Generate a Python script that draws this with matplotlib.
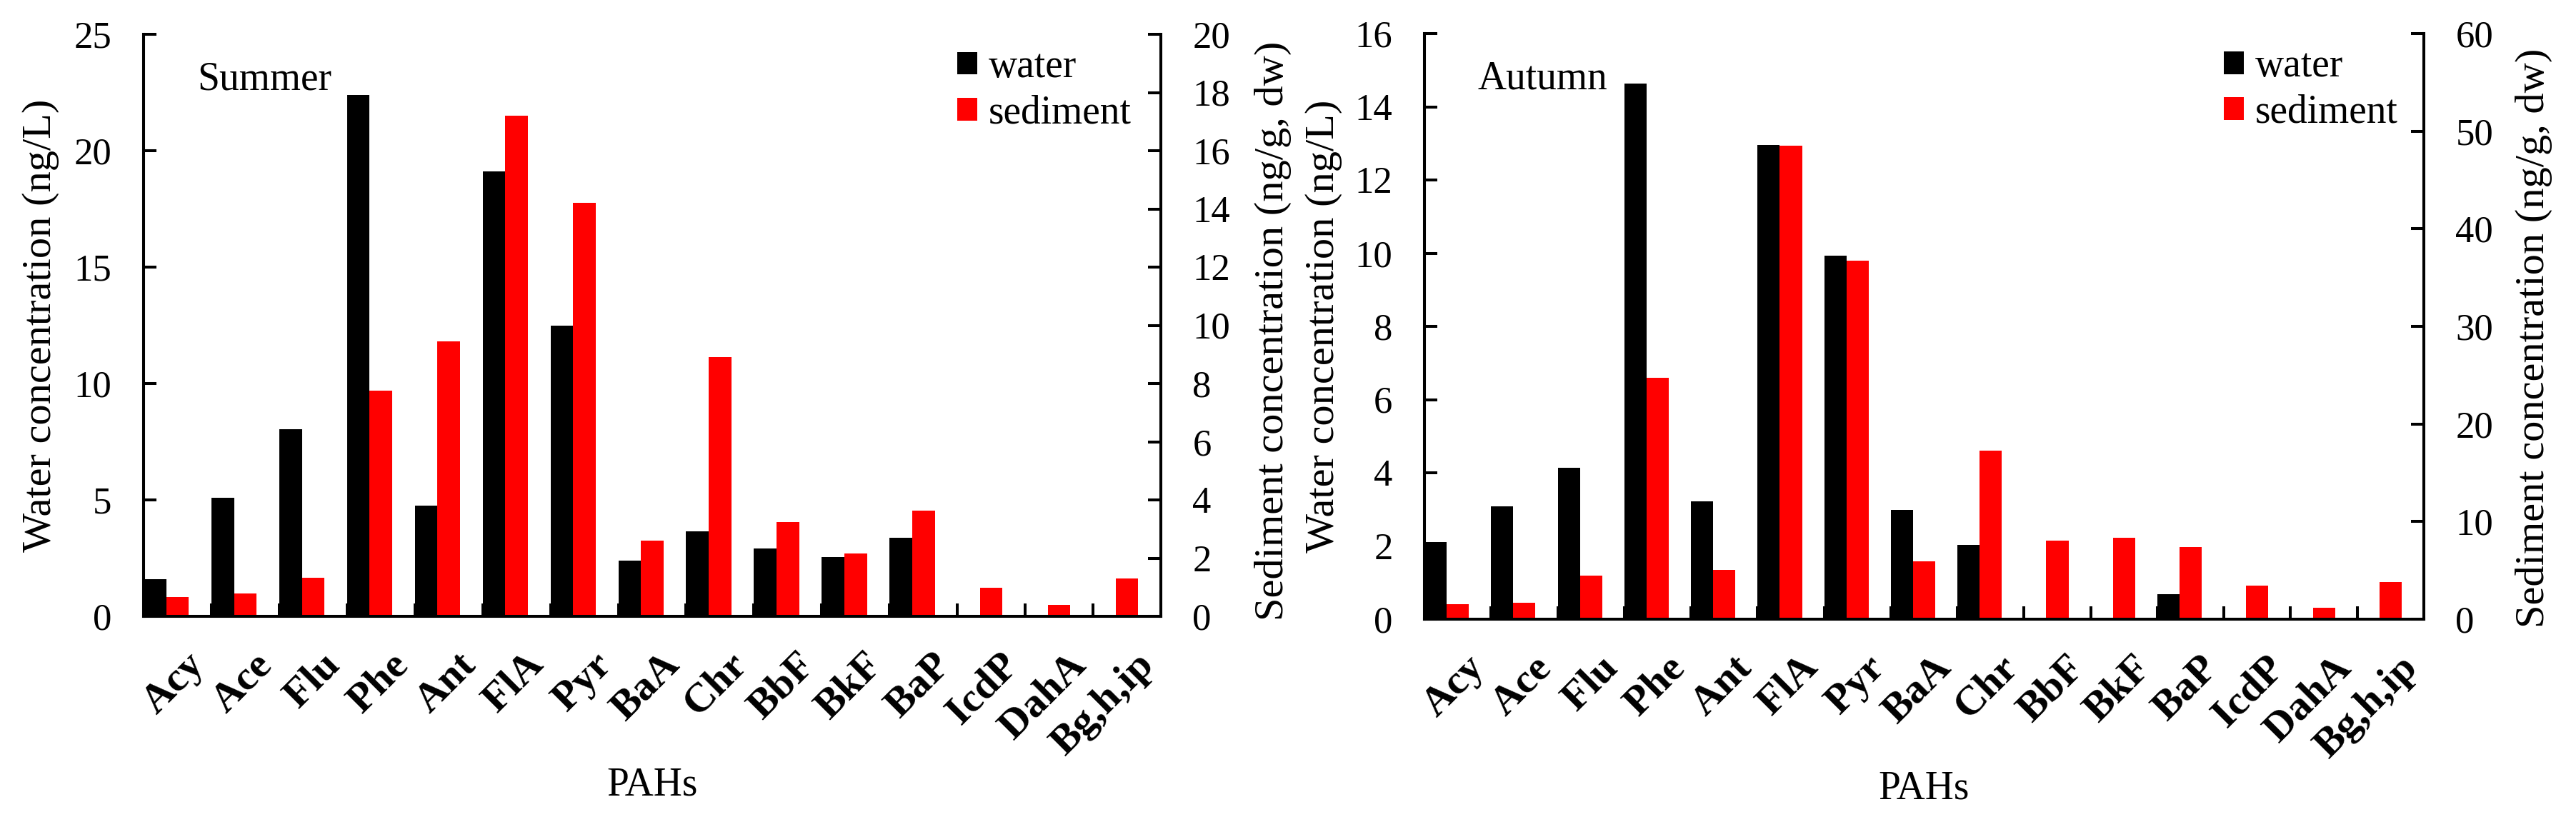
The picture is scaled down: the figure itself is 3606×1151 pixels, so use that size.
import numpy as np
import matplotlib
matplotlib.use('Agg')
import matplotlib.pyplot as plt
from matplotlib.patches import Patch
from matplotlib.ticker import MultipleLocator, FixedLocator, NullFormatter
from matplotlib.transforms import ScaledTranslation

plt.rcParams['font.family'] = 'serif'
plt.rcParams['font.serif'] = ['Liberation Serif', 'DejaVu Serif']
plt.rcParams['mathtext.fontset'] = 'stix'

# ------------------------------------------------------------------
# Data
# ------------------------------------------------------------------
pahs = ['Acy', 'Ace', 'Flu', 'Phe', 'Ant', 'FlA', 'Pyr', 'BaA', 'Chr',
        'BbF', 'BkF', 'BaP', 'IcdP', 'DahA', 'Bg,h,ip']

summer_water = [1.6, 5.1, 8.05, 22.4, 4.75, 19.1, 12.5, 2.4, 3.65,
                2.9, 2.56, 3.36, 0.0, 0.0, 0.0]
summer_sediment = [0.66, 0.79, 1.33, 7.76, 9.44, 17.2, 14.2, 2.59, 8.92,
                   3.25, 2.16, 3.62, 0.99, 0.40, 1.29]

autumn_water = [2.11, 3.09, 4.14, 14.63, 3.22, 12.95, 9.94, 2.99, 2.02,
                0.0, 0.0, 0.69, 0.0, 0.0, 0.0]
autumn_sediment = [1.56, 1.65, 4.47, 24.7, 5.02, 48.5, 36.7, 5.95, 17.3,
                   8.06, 8.31, 7.38, 3.46, 1.18, 3.84]

W, H = 3606, 1151
DPI = 200
LW = 1.45          # spine / tick width (pt)
TICK_LEN = 6.5     # pt


def _panel(fig, rect, water, sediment, ylim_w, step_w, ylim_s, step_s,
           season, ylab_right_y):
    x = np.arange(len(pahs))
    w = 1 / 3

    ax = fig.add_axes(rect)
    ax2 = ax.twinx()

    ax.bar(x - w, water, width=w, color='black', linewidth=0)
    ax2.bar(x, sediment, width=w, color='#FF0000', linewidth=0)

    ax.set_xlim(-0.5, len(pahs) - 0.5)
    ax.set_ylim(0, ylim_w)
    ax2.set_ylim(0, ylim_s)
    ax.yaxis.set_major_locator(MultipleLocator(step_w))
    ax2.yaxis.set_major_locator(MultipleLocator(step_s))

    # category labels at centres, tick marks at category boundaries
    ax.set_xticks(x)
    ax.set_xticklabels(pahs, rotation=45, ha='right', va='top',
                       rotation_mode='anchor', fontsize=21,
                       fontweight='bold')
    ax.xaxis.set_minor_locator(FixedLocator(np.arange(0.5, len(pahs) - 1, 1)))
    ax.xaxis.set_minor_formatter(NullFormatter())
    ax.tick_params(axis='x', which='major', length=0, pad=15)
    ax.tick_params(axis='x', which='minor', direction='in',
                   length=TICK_LEN, width=LW)
    shift = ScaledTranslation(4 / 72, 0, fig.dpi_scale_trans)
    for lbl in ax.get_xticklabels():
        lbl.set_transform(lbl.get_transform() + shift)

    ax.tick_params(axis='y', direction='in', length=TICK_LEN, width=LW,
                   labelsize=19, pad=16)
    ax2.tick_params(axis='y', direction='in', length=TICK_LEN, width=LW,
                    labelsize=19, pad=16)
    ax2.tick_params(axis='x', which='both', length=0)

    for a in (ax, ax2):
        a.spines['top'].set_visible(False)
        for s in ('left', 'right', 'bottom'):
            a.spines[s].set_linewidth(LW)

    ax.text(-0.101, 0.5, 'Water concentration (ng/L)', rotation=90,
            ha='center', va='center', fontsize=21, transform=ax.transAxes)
    ax.text(1.11, ylab_right_y, 'Sediment concentration (ng/g, dw)',
            rotation=90, ha='center', va='center', fontsize=21,
            transform=ax.transAxes)
    ax.text(0.5, -0.29, 'PAHs', ha='center', va='center', fontsize=20,
            transform=ax.transAxes)
    ax.text(0.053, 0.905, season, ha='left', va='baseline', fontsize=20,
            transform=ax.transAxes)

    handles = [Patch(facecolor='black', edgecolor='none'),
               Patch(facecolor='#FF0000', edgecolor='none')]
    ax2.legend(handles, ['water', 'sediment'], loc='upper left',
               bbox_to_anchor=(0.80, 0.975), frameon=False, fontsize=20,
               handlelength=0.5, handleheight=0.5, handletextpad=0.28,
               labelspacing=0.22, borderpad=0, borderaxespad=0)
    return ax, ax2


fig = plt.figure(figsize=(W / DPI, H / DPI), dpi=DPI)

_panel(fig, [201 / W, 1 - 863 / H, 1424 / W, 815 / H],
       summer_water, summer_sediment, 25, 5, 20, 2, 'Summer', 0.49)
_panel(fig, [1994 / W, 1 - 867 / H, 1399 / W, 820 / H],
       autumn_water, autumn_sediment, 16, 2, 60, 10, 'Autumn', 0.48)

fig.savefig('out.png', dpi=DPI)
